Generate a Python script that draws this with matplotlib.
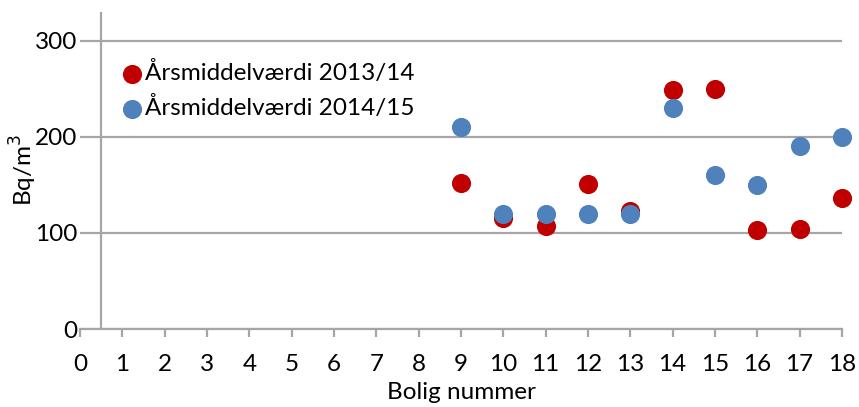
import matplotlib
matplotlib.use("Agg")
import matplotlib.pyplot as plt

# data
bolig = [9, 10, 11, 12, 13, 14, 15, 16, 17, 18]
aar_2013_14 = [152, 116, 107, 151, 123, 249, 250, 103, 104, 136]
aar_2014_15 = [210, 120, 120, 120, 120, 230, 160, 150, 190, 200]
x_ticks = list(range(0, 19))
y_ticks = [0, 100, 200, 300]

RED = "#C00000"
BLUE = "#4F81BD"
GRID = "#A6A6A6"

plt.rcParams["font.family"] = ["Lato", "DejaVu Sans"]

fig = plt.figure(figsize=(8.59, 4.07), dpi=100)
ax = fig.add_axes([0.0931, 0.1916, 0.887, 0.779])

ax.scatter(bolig, aar_2013_14, s=190, color=RED, zorder=3, clip_on=False,
           linewidths=0, label="Årsmiddelværdi 2013/14")
ax.scatter(bolig, aar_2014_15, s=190, color=BLUE, zorder=4, clip_on=False,
           linewidths=0, label="Årsmiddelværdi 2014/15")

ax.set_xlim(0, 18)
ax.set_ylim(0, 330)
ax.set_xticks(x_ticks)
ax.set_yticks(y_ticks)

# horizontal grid, vertical axis line crosses at 0.5 like the original
ax.yaxis.grid(True, color=GRID, linewidth=1.6, zorder=1)
ax.set_axisbelow(True)
ax.axvline(0.5, color=GRID, linewidth=1.6, zorder=2)

for side in ["top", "right", "left"]:
    ax.spines[side].set_visible(False)
ax.spines["bottom"].set_color(GRID)
ax.spines["bottom"].set_linewidth(1.6)

ax.tick_params(axis="x", direction="out", length=6, width=1.6, color=GRID,
               labelsize=17.5, pad=12)
ax.tick_params(axis="y", length=0, labelsize=17.5, pad=2)

ax.set_xlabel("Bolig nummer", fontsize=17.5, labelpad=5)
ax.set_ylabel("Bq/m$^3$", fontsize=17.5, labelpad=-3)

ax.legend(loc="upper left", bbox_to_anchor=(0.039, 0.875), frameon=False,
          fontsize=17.5, handletextpad=0.05, borderaxespad=0,
          labelspacing=0.5, handlelength=1.0, scatterpoints=1)

fig.savefig("out.png", dpi=100)
